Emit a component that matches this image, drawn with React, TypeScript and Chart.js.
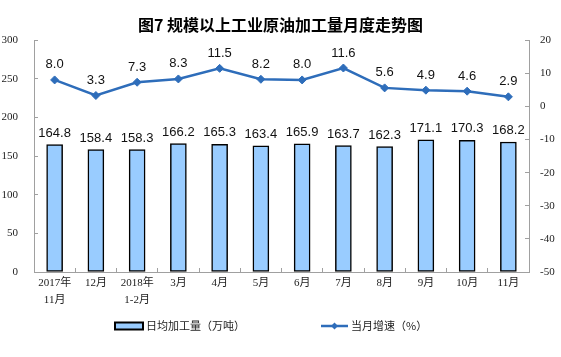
import React, { useEffect, useRef } from 'react';
import { Chart, registerables } from 'chart.js';

Chart.register(...registerables);

const categories: (string | string[])[] = [
  ['2017年', '11月'], '12月', ['2018年', '1-2月'], '3月', '4月', '5月',
  '6月', '7月', '8月', '9月', '10月', '11月',
];
const dailyOutput = [164.8, 158.4, 158.3, 166.2, 165.3, 163.4, 165.9, 163.7, 162.3, 171.1, 170.3, 168.2];
const monthlyGrowth = [8.0, 3.3, 7.3, 8.3, 11.5, 8.2, 8.0, 11.6, 5.6, 4.9, 4.6, 2.9];
const leftAxis = { min: 0, max: 300, step: 50 };
const rightAxis = { min: -50, max: 20, step: 10 };
const titleText = '图7 规模以上工业原油加工量月度走势图';
const barLabel = '日均加工量（万吨）';
const lineLabel = '当月增速（%）';

const BAR_FILL = '#99CCFF';
const LINE_COLOR = '#2E6DBA';
const AXIS_GRAY = '#A0A0A0';
const SERIF = "'Liberation Serif', 'Noto Sans CJK SC', serif";
const SANS = "'Liberation Sans', Arial, sans-serif";
const CJK = "'Noto Sans CJK SC', sans-serif";

const valueLabelPlugin = {
  id: 'valueLabels',
  afterDatasetsDraw(chart: any) {
    const ctx = chart.ctx;
    ctx.save();
    ctx.fillStyle = '#111';
    ctx.font = `13px ${SANS}`;
    ctx.textAlign = 'center';
    ctx.textBaseline = 'alphabetic';
    chart.getDatasetMeta(0).data.forEach((el: any, i: number) => {
      ctx.fillText(dailyOutput[i].toFixed(1), el.x, el.y - 8);
    });
    chart.getDatasetMeta(1).data.forEach((el: any, i: number) => {
      ctx.fillText(monthlyGrowth[i].toFixed(1), el.x, el.y - 11.5);
    });
    ctx.restore();
  },
};

const customLegendPlugin = {
  id: 'customLegend',
  afterDraw(chart: any) {
    const ctx = chart.ctx;
    const area = chart.chartArea;
    const cy = area.bottom + 54;
    let x = area.left + 81;
    ctx.save();
    // bar icon
    ctx.fillStyle = BAR_FILL;
    ctx.strokeStyle = '#000';
    ctx.lineWidth = 2;
    ctx.fillRect(x, cy - 3.5, 28, 7);
    ctx.strokeRect(x, cy - 3.5, 28, 7);
    x += 31;
    ctx.font = `11px ${CJK}`;
    ctx.fillStyle = '#222';
    ctx.textAlign = 'left';
    ctx.textBaseline = 'middle';
    ctx.fillText(barLabel, x, cy);
    x += ctx.measureText(barLabel).width + 76;
    // line icon
    ctx.strokeStyle = LINE_COLOR;
    ctx.lineWidth = 2.5;
    ctx.beginPath();
    ctx.moveTo(x, cy);
    ctx.lineTo(x + 27, cy);
    ctx.stroke();
    ctx.fillStyle = LINE_COLOR;
    ctx.beginPath();
    const mx = x + 13.5;
    ctx.moveTo(mx, cy - 3.5);
    ctx.lineTo(mx + 3.5, cy);
    ctx.lineTo(mx, cy + 3.5);
    ctx.lineTo(mx - 3.5, cy);
    ctx.closePath();
    ctx.fill();
    x += 30;
    ctx.fillStyle = '#222';
    ctx.fillText(lineLabel, x, cy);
    ctx.restore();
  },
};

export default function App() {
  const canvasRef = useRef<HTMLCanvasElement | null>(null);

  useEffect(() => {
    if (!canvasRef.current) return;
    const chart = new Chart(canvasRef.current, {
      type: 'bar',
      data: {
        labels: categories as any,
        datasets: [
          {
            type: 'bar',
            label: barLabel,
            data: dailyOutput,
            backgroundColor: BAR_FILL,
            borderColor: '#000',
            borderWidth: 1.5,
            borderSkipped: false,
            barThickness: 16,
            yAxisID: 'y',
          } as any,
          {
            type: 'line',
            label: lineLabel,
            data: monthlyGrowth,
            borderColor: LINE_COLOR,
            backgroundColor: LINE_COLOR,
            borderWidth: 2.5,
            pointStyle: 'rectRot',
            pointRadius: 4,
            pointBorderWidth: 1,
            pointBackgroundColor: LINE_COLOR,
            pointBorderColor: LINE_COLOR,
            tension: 0,
            yAxisID: 'y1',
          } as any,
        ],
      },
      options: {
        responsive: false,
        animation: false,
        devicePixelRatio: 1,
        layout: { padding: { left: 0, right: 0, top: 0, bottom: 0 } },
        plugins: {
          legend: { display: false },
          tooltip: { enabled: false },
          title: {
            display: true,
            text: titleText,
            color: '#000',
            font: { family: CJK, size: 16, weight: 'bold' },
            padding: { top: 15, bottom: 6 },
          },
        },
        scales: {
          x: {
            grid: {
              drawOnChartArea: false,
              tickLength: -4,
              color: AXIS_GRAY,
            },
            border: { display: true, color: AXIS_GRAY, width: 1 },
            ticks: {
              color: '#222',
              font: { family: SERIF, size: 11, lineHeight: 1.5 },
              padding: 7,
              maxRotation: 0,
              autoSkip: false,
            },
            afterFit: (s: any) => { s.height = 85; },
          },
          y: {
            position: 'left',
            min: leftAxis.min,
            max: leftAxis.max,
            grid: { drawOnChartArea: false, tickLength: -4, color: AXIS_GRAY },
            border: { display: true, color: AXIS_GRAY, width: 1 },
            ticks: {
              stepSize: leftAxis.step,
              color: '#222',
              font: { family: SERIF, size: 11 },
              padding: 20,
            },
            afterFit: (s: any) => { s.width = 34; },
          },
          y1: {
            position: 'right',
            min: rightAxis.min,
            max: rightAxis.max,
            grid: { drawOnChartArea: false, tickLength: -4, color: AXIS_GRAY },
            border: { display: true, color: AXIS_GRAY, width: 1 },
            ticks: {
              stepSize: rightAxis.step,
              color: '#222',
              font: { family: SERIF, size: 11 },
              padding: 15,
            },
            afterFit: (s: any) => { s.width = 32; },
          },
        },
      } as any,
      plugins: [valueLabelPlugin, customLegendPlugin],
    });
    return () => chart.destroy();
  }, []);

  return (
    <div style={{ position: 'fixed', left: 0, top: 0, width: 561, height: 357, background: '#fff' }}>
      <canvas ref={canvasRef} width={561} height={357} />
    </div>
  );
}
